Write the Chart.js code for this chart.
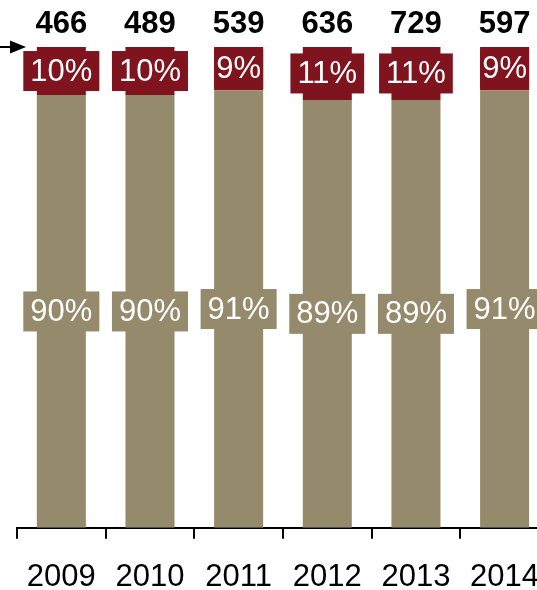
<!DOCTYPE html>
<html>
<head>
<meta charset="utf-8">
<script src="https://cdn.jsdelivr.net/npm/chart.js@4/dist/chart.umd.min.js"></script>
<style>
  html, body { margin: 0; padding: 0; background: #fff; }
  #wrap { width: 537px; height: 590px; overflow: hidden; position: relative; }
</style>
</head>
<body>
<div id="wrap"><canvas id="grafico" width="560" height="623"></canvas></div>
<script>
// dados do grafico
const anos = ['2009', '2010', '2011', '2012', '2013', '2014'];
const totais = [466, 489, 539, 636, 729, 597];
const parteBase = [90, 90, 91, 89, 89, 91];
const parteTopo = [10, 10, 9, 11, 11, 9];

const corBase = '#968a6c';
const corTopo = '#80141e';
const fonte = 'Arial, "Liberation Sans", sans-serif';

// rotulos com caixa de fundo dentro de cada segmento
const rotulos = {
  id: 'rotulos',
  afterDatasetsDraw(chart) {
    const ctx = chart.ctx;
    ctx.save();
    ctx.font = '31px ' + fonte;
    ctx.textAlign = 'center';
    ctx.textBaseline = 'middle';
    chart.data.datasets.forEach((ds, i) => {
      const meta = chart.getDatasetMeta(i);
      meta.data.forEach((bar, j) => {
        const txt = ds.data[j] + '%';
        const yc = (bar.y + bar.base) / 2;
        const tw = ctx.measureText(txt).width;
        let w = tw + 14;
        if (w < bar.width + 10) w = bar.width;
        const h = 40;
        ctx.fillStyle = ds.backgroundColor;
        ctx.fillRect(bar.x - w / 2, yc - h / 2, w, h);
        ctx.fillStyle = '#ffffff';
        ctx.fillText(txt, bar.x, yc + 1);
      });
    });
    // totais acima das barras
    ctx.font = 'bold 31px ' + fonte;
    ctx.fillStyle = '#000';
    const metaTopo = chart.getDatasetMeta(1);
    metaTopo.data.forEach((bar, j) => {
      ctx.fillText(String(totais[j]), bar.x, bar.y - 23);
    });
    // seta na linha de 100%
    const y100 = chart.scales.y.getPixelForValue(100);
    ctx.strokeStyle = '#000';
    ctx.lineWidth = 2;
    ctx.beginPath();
    ctx.moveTo(0, y100);
    ctx.lineTo(14, y100);
    ctx.stroke();
    ctx.beginPath();
    ctx.moveTo(10, y100 - 6.5);
    ctx.lineTo(26, y100);
    ctx.lineTo(10, y100 + 6.5);
    ctx.closePath();
    ctx.fill();
    ctx.restore();
  }
};

const ctx = document.getElementById('grafico').getContext('2d');
const grafico = new Chart(ctx, {
  type: 'bar',
  data: {
    labels: anos,
    datasets: [
      {
        label: 'base',
        data: parteBase,
        backgroundColor: corBase,
        barPercentage: 0.553,
        categoryPercentage: 1
      },
      {
        label: 'topo',
        data: parteTopo,
        backgroundColor: corTopo,
        barPercentage: 0.553,
        categoryPercentage: 1
      }
    ]
  },
  options: {
    responsive: false,
    animation: false,
    devicePixelRatio: 1,
    layout: {
      padding: { left: 17, right: 11, top: 47, bottom: 7 }
    },
    plugins: {
      legend: { display: false },
      tooltip: { enabled: false }
    },
    scales: {
      x: {
        stacked: true,
        grid: {
          display: true,
          drawOnChartArea: false,
          drawTicks: true,
          tickLength: 11,
          color: '#000',
          lineWidth: 2,
          offset: true
        },
        border: { display: true, color: '#000', width: 2 },
        ticks: {
          color: '#000',
          padding: 20,
          maxRotation: 0,
          font: { family: fonte, size: 31 }
        }
      },
      y: {
        stacked: true,
        display: false,
        min: 0,
        max: 100
      }
    }
  },
  plugins: [rotulos]
});
</script>
</body>
</html>
